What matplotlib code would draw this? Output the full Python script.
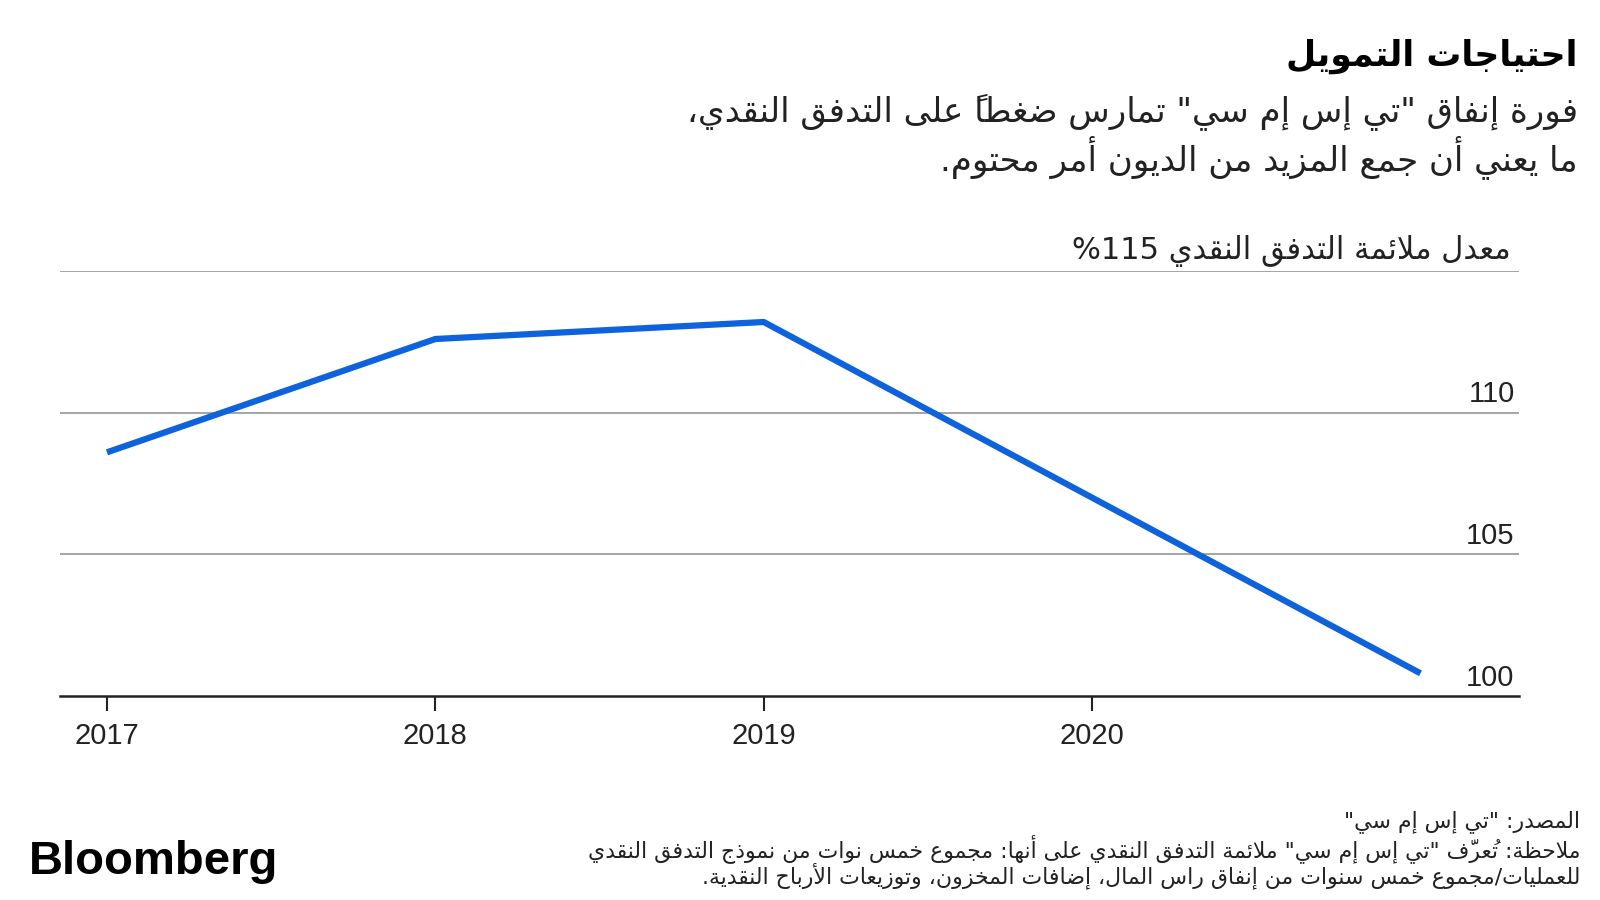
import matplotlib
matplotlib.use("Agg")
import matplotlib.pyplot as plt
import matplotlib.transforms as mtransforms

# ---- data ----
years = [2017, 2018, 2019, 2020, 2021]
ratio = [108.6, 112.6, 113.2, 107.0, 100.8]
year_ticks = [2017, 2018, 2019, 2020]
y_ticks = [100, 105, 110]

title = "احتياجات التمويل"
subtitle = ["فورة إنفاق \"تي إس إم سي\" تمارس ضغطاً على التدفق النقدي،",
            "ما يعني أن جمع المزيد من الديون أمر محتوم."]
ylabel = "معدل ملائمة التدفق النقدي %115"
footer = ["المصدر: \"تي إس إم سي\"",
          "ملاحظة: تُعرّف \"تي إس إم سي\" ملائمة التدفق النقدي على أنها: مجموع خمس نوات من نموذج التدفق النقدي",
          "للعمليات/مجموع خمس سنوات من إنفاق راس المال، إضافات المخزون، وتوزيعات الأرباح النقدية."]

# ---- minimal arabic shaping (matplotlib has no bidi / joining) ----
DUAL = {'ئ': 0xFE89, 'ب': 0xFE8F, 'ت': 0xFE95, 'ث': 0xFE99, 'ج': 0xFE9D, 'ح': 0xFEA1,
        'خ': 0xFEA5, 'س': 0xFEB1, 'ش': 0xFEB5, 'ص': 0xFEB9, 'ض': 0xFEBD, 'ط': 0xFEC1,
        'ظ': 0xFEC5, 'ع': 0xFEC9, 'غ': 0xFECD, 'ف': 0xFED1, 'ق': 0xFED5, 'ك': 0xFED9,
        'ل': 0xFEDD, 'م': 0xFEE1, 'ن': 0xFEE5, 'ه': 0xFEE9, 'ي': 0xFEF1}
RIGHT = {'آ': 0xFE81, 'أ': 0xFE83, 'ؤ': 0xFE85, 'إ': 0xFE87, 'ا': 0xFE8D, 'ة': 0xFE93,
         'د': 0xFEA9, 'ذ': 0xFEAB, 'ر': 0xFEAD, 'ز': 0xFEAF, 'و': 0xFEED, 'ى': 0xFEEF}
LAMALEF = {'آ': 0xFEF5, 'أ': 0xFEF7, 'إ': 0xFEF9, 'ا': 0xFEFB}
MARKS = set(chr(c) for c in range(0x064B, 0x0653))


def shape(text):
    cl = []
    for ch in text:
        if ch in MARKS and cl:
            cl[-1][1] += ch
        else:
            cl.append([ch, ''])
    n = len(cl)

    def joins(k):
        return 0 <= k < n and (cl[k][0] in DUAL or cl[k][0] in RIGHT)

    out = []
    i = 0
    while i < n:
        ch, mk = cl[i]
        prev = i > 0 and cl[i - 1][0] in DUAL
        if ch == 'ل' and i + 1 < n and cl[i + 1][0] in LAMALEF:
            out.append(mk + cl[i + 1][1] + chr(LAMALEF[cl[i + 1][0]] + (1 if prev else 0)))
            i += 2
            continue
        if ch in DUAL or ch in RIGHT:
            nxt = ch in DUAL and joins(i + 1)
            base = DUAL.get(ch) or RIGHT.get(ch)
            form = 3 if (prev and nxt) else 1 if prev else 2 if nxt else 0
            # marks go before the base so they land on it when drawn left to right
            out.append(mk + chr(base + form))
        else:
            out.append(mk + ch)
        i += 1
    return out


def ar(text):
    runs = []
    for c in shape(text):
        b = c[-1]
        ltr = b.isdigit() or b == '%' or (b.isascii() and b.isalpha())
        if runs and runs[-1][0] == ltr:
            runs[-1][1].append(c)
        else:
            runs.append([ltr, [c]])
    res = ''
    for ltr, cs in reversed(runs):
        res += ''.join(cs if ltr else reversed(cs))
    return res


AR_FONT = ['DejaVu Sans']
NUM_FONT = ['Liberation Sans', 'DejaVu Sans']
W, H = 1600, 900

fig = plt.figure(figsize=(16, 9), dpi=100)
ax = fig.add_axes([60 / W, 1 - 696 / H, 1459 / W, (696 - 271) / H])

blue = '#0e63dc'
ax.plot(years, ratio, color=blue, lw=4.5, solid_capstyle='butt', zorder=3)

ax.set_xlim(2016.857, 2021.3)
ax.set_ylim(100, 115)
for v in [105, 110, 115]:
    ax.axhline(v, color='#8c8c8c', lw=1.1, zorder=1)
for s in ['top', 'left', 'right']:
    ax.spines[s].set_visible(False)
ax.spines['bottom'].set_color('#222222')
ax.spines['bottom'].set_linewidth(1.8)
ax.set_xticks(year_ticks)
ax.set_xticklabels([str(y) for y in year_ticks], fontsize=21, family=NUM_FONT, color='#222222')
ax.tick_params(axis='x', length=11, width=1.5, color='#222222', pad=8)
ax.set_yticks([])

trans = mtransforms.blended_transform_factory(ax.transAxes, ax.transData)
for v in y_ticks:
    ax.annotate(str(v), xy=(0.997, v), xycoords=trans, xytext=(0, 7.5),
                textcoords='offset points', ha='right', va='baseline',
                fontsize=21, family=NUM_FONT, color='#222222')
ax.annotate(ar(ylabel), xy=(0.9945, 115), xycoords=trans, xytext=(0, 9),
            textcoords='offset points', ha='right', va='baseline',
            fontsize=22, family=AR_FONT, color='#222222')

# titles
fig.text(1578 / W, 1 - 56 / H, ar(title), ha='right', va='center',
         fontsize=25, fontweight='bold', family=AR_FONT, color='black')
for k, line in enumerate(subtitle):
    fig.text(1578 / W, 1 - (112 + 45 * k) / H, ar(line), ha='right', va='center',
             fontsize=24.5, family=AR_FONT, color='#222222')

# footer
for k, line in enumerate(footer):
    fig.text(1580 / W, 1 - (822 + 27 * k) / H, ar(line), ha='right', va='center',
             fontsize=15.8, family=AR_FONT, color='#222222')
fig.text(29 / W, 1 - 874 / H, 'Bloomberg', ha='left', va='baseline',
         fontsize=34, fontweight='bold', family=NUM_FONT, color='black')

fig.savefig('out.png', dpi=100, facecolor='white')
